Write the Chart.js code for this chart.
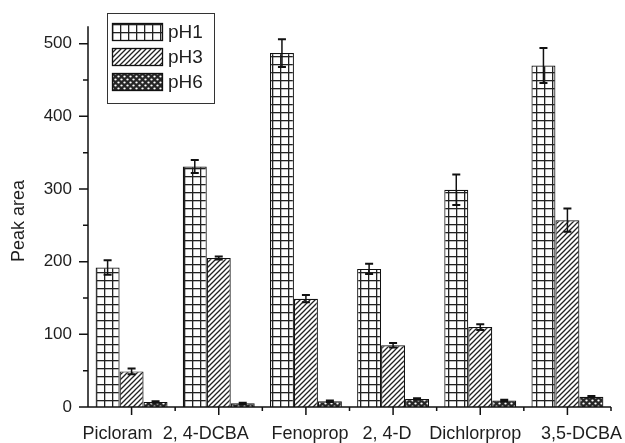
<!DOCTYPE html>
<html lang="en">
<head>
    <meta charset="UTF-8">
    <title>Peak area by pH</title>
    <script src="https://cdn.jsdelivr.net/npm/chart.js"></script>
    <style>
        body { margin: 0; background: #fff; }
        #wrap { width: 625px; height: 443px; }
    </style>
</head>
<body>
    <div id="wrap"><canvas id="peakChart" width="625" height="443"></canvas></div>

    <script>
        // data
        const categories = ['Picloram', '2, 4-DCBA', 'Fenoprop', '2, 4-D', 'Dichlorprop', '3,5-DCBA'];
        const ph1 = [192, 331, 487, 190, 299, 470];
        const ph1Err = [10, 9, 19, 7, 21, 24];
        const ph3 = [49, 205, 149, 85, 110, 257];
        const ph3Err = [4, 2, 5, 3, 4, 16];
        const ph6 = [7, 5, 8, 11, 9, 14];
        const ph6Err = [1, 1, 1, 1, 1, 1];
        const yTicks = [0, 100, 200, 300, 400, 500];
        const yMinorTicks = [50, 150, 250, 350, 450];

        const FONT = "'Liberation Sans', Arial, sans-serif";
        const INK = '#1e1e1e';
        // the category names in the figure sit a little off their ticks
        const labelShift = [-14, -13, 4, -6, -5, 14];

        // fill patterns
        function makePattern(w, h, draw) {
            const c = document.createElement('canvas');
            c.width = w; c.height = h;
            const g = c.getContext('2d');
            draw(g, w, h);
            return g.createPattern(c, 'repeat');
        }
        const gridFill = makePattern(8, 8, (g, w, h) => {
            g.fillStyle = '#fff'; g.fillRect(0, 0, w, h);
            g.fillStyle = '#222';
            g.fillRect(0, 0, w, 1.3);
            g.fillRect(0, 0, 1.3, h);
        });
        const hatchFill = makePattern(5, 5, (g, w, h) => {
            g.fillStyle = '#fff'; g.fillRect(0, 0, w, h);
            g.strokeStyle = '#222'; g.lineWidth = 1.3;
            g.beginPath();
            g.moveTo(-1, h + 1); g.lineTo(w + 1, -1);
            g.moveTo(-1, 1); g.lineTo(1, -1);
            g.moveTo(w - 1, h + 1); g.lineTo(w + 1, h - 1);
            g.stroke();
        });
        const dotFill = makePattern(6, 6, (g, w, h) => {
            g.fillStyle = '#262626'; g.fillRect(0, 0, w, h);
            g.fillStyle = '#fff';
            g.beginPath(); g.ellipse(1.5, 1.5, 1.2, 1, 0, 0, Math.PI * 2); g.fill();
            g.beginPath(); g.ellipse(4.5, 4.5, 1.2, 1, 0, 0, Math.PI * 2); g.fill();
        });

        const seriesInfo = [
            { label: 'pH1', data: ph1, err: ph1Err, fill: gridFill },
            { label: 'pH3', data: ph3, err: ph3Err, fill: hatchFill },
            { label: 'pH6', data: ph6, err: ph6Err, fill: dotFill }
        ];

        const extras = {
            id: 'extras',
            afterDatasetsDraw(chart) {
                const ctx = chart.ctx;
                const y = chart.scales.y;
                ctx.save();
                ctx.strokeStyle = '#111';
                seriesInfo.forEach((s, i) => {
                    const meta = chart.getDatasetMeta(i);
                    meta.data.forEach((bar, j) => {
                        const top = y.getPixelForValue(s.data[j] + s.err[j]);
                        const bot = y.getPixelForValue(s.data[j] - s.err[j]);
                        ctx.lineWidth = 1.5;
                        ctx.beginPath();
                        ctx.moveTo(bar.x, top); ctx.lineTo(bar.x, bot);
                        ctx.stroke();
                        ctx.lineWidth = 2;
                        ctx.beginPath();
                        ctx.moveTo(bar.x - 4, top); ctx.lineTo(bar.x + 4, top);
                        ctx.moveTo(bar.x - 4, bot); ctx.lineTo(bar.x + 4, bot);
                        ctx.stroke();
                    });
                });
                ctx.restore();
            },
            afterDraw(chart) {
                const ctx = chart.ctx;
                const a = chart.chartArea;
                const y = chart.scales.y;
                const x = chart.scales.x;
                ctx.save();
                ctx.strokeStyle = '#111';
                ctx.lineWidth = 1.5;
                // axes
                ctx.beginPath();
                ctx.moveTo(a.left, a.top); ctx.lineTo(a.left, a.bottom);
                ctx.moveTo(a.left, a.bottom); ctx.lineTo(a.right, a.bottom);
                ctx.stroke();
                // y ticks
                ctx.beginPath();
                yTicks.forEach(v => {
                    const p = y.getPixelForValue(v);
                    ctx.moveTo(a.left - 9, p); ctx.lineTo(a.left, p);
                });
                yMinorTicks.forEach(v => {
                    const p = y.getPixelForValue(v);
                    ctx.moveTo(a.left - 5, p); ctx.lineTo(a.left, p);
                });
                // x ticks
                categories.forEach((c, i) => {
                    const p = x.getPixelForValue(i);
                    ctx.moveTo(p, a.bottom); ctx.lineTo(p, a.bottom + 8);
                    const q = p + (a.right - a.left) / categories.length / 2;
                    ctx.moveTo(q, a.bottom); ctx.lineTo(q, a.bottom + 4);
                });
                ctx.stroke();

                // x category names
                ctx.fillStyle = INK;
                ctx.font = '18px ' + FONT;
                ctx.textAlign = 'center';
                ctx.textBaseline = 'alphabetic';
                categories.forEach((c, i) => {
                    ctx.fillText(c, x.getPixelForValue(i) + labelShift[i], 439);
                });

                // y title
                ctx.font = '18px ' + FONT;
                ctx.translate(24, 221);
                ctx.rotate(-Math.PI / 2);
                ctx.fillText('Peak area', 0, 0);
                ctx.setTransform(1, 0, 0, 1, 0, 0);

                // legend
                ctx.lineWidth = 1;
                ctx.strokeStyle = '#333';
                ctx.strokeRect(107.5, 13.5, 107, 90);
                ctx.font = '19px ' + FONT;
                ctx.textAlign = 'left';
                ctx.textBaseline = 'middle';
                seriesInfo.forEach((s, i) => {
                    const top = 23 + i * 25;
                    ctx.fillStyle = s.fill;
                    ctx.fillRect(112, top, 51, 18);
                    ctx.strokeStyle = '#111';
                    ctx.lineWidth = 1.3;
                    ctx.strokeRect(112.5, top + 0.5, 50, 17);
                    ctx.fillStyle = INK;
                    ctx.fillText(s.label, 168, top + 10);
                });
                ctx.restore();
            }
        };

        const ctx = document.getElementById('peakChart').getContext('2d');
        new Chart(ctx, {
            type: 'bar',
            data: {
                labels: categories,
                datasets: seriesInfo.map(s => ({
                    label: s.label,
                    data: s.data,
                    backgroundColor: s.fill,
                    borderColor: '#111',
                    borderWidth: 1.2,
                    categoryPercentage: 0.825,
                    barPercentage: 1
                }))
            },
            options: {
                responsive: false,
                animation: false,
                layout: { padding: { top: 12, right: 14, left: 0, bottom: 0 } },
                plugins: {
                    legend: { display: false },
                    tooltip: { enabled: false }
                },
                scales: {
                    x: {
                        grid: { display: false, drawTicks: false },
                        border: { display: false },
                        ticks: { display: false },
                        afterFit: s => { s.height = 36; }
                    },
                    y: {
                        min: 0,
                        max: 524,
                        grid: { display: false, drawTicks: false },
                        border: { display: false },
                        ticks: {
                            padding: 16,
                            color: INK,
                            font: { family: FONT, size: 17 }
                        },
                        afterBuildTicks: s => { s.ticks = yTicks.map(v => ({ value: v })); },
                        afterFit: s => { s.width = 88; }
                    }
                }
            },
            plugins: [extras]
        });
    </script>
</body>
</html>
